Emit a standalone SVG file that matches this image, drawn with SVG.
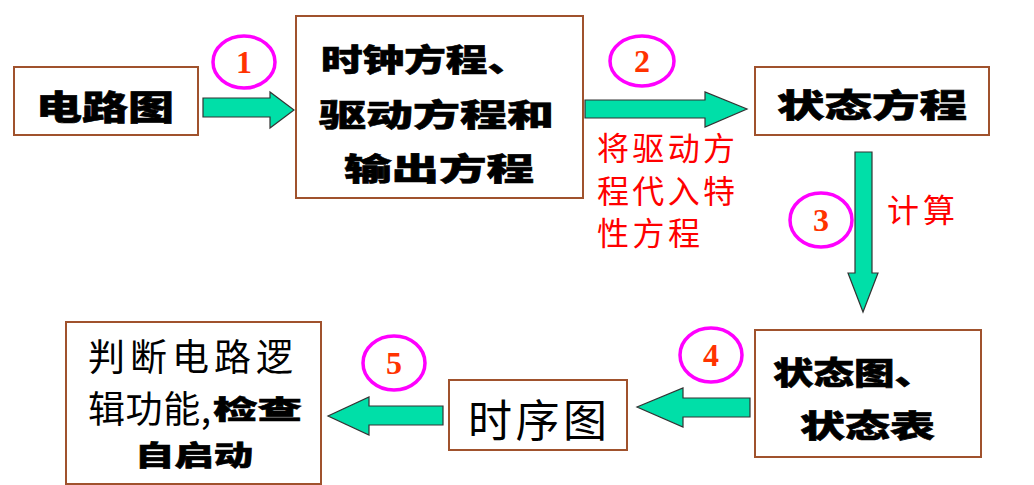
<svg xmlns="http://www.w3.org/2000/svg" width="1034" height="485" viewBox="0 0 1034 485">
<style>
.box{fill:#fff;stroke:#a0522d;stroke-width:2}
.arr{fill:#00dfa8;stroke:#333;stroke-width:1.2}
.circ{fill:none;stroke:#ff00ff;stroke-width:3.5}
.num{font-family:"Liberation Serif",serif;font-weight:bold;font-size:32px;fill:#ff3300;text-anchor:middle}
.bt{font-family:"Noto Sans CJK SC",sans-serif;font-weight:900;fill:#000;stroke:#000;stroke-width:0.6}
.rt{font-family:"Noto Sans CJK SC",sans-serif;font-weight:normal;fill:#ff0000;font-size:32px}
.nt{font-family:"Noto Sans CJK SC",sans-serif;font-weight:normal;fill:#000}
</style>
<rect width="1034" height="485" fill="#fff"/>
<g id="connectors">
<polygon class="arr" points="203,98 270,98 270,92 294,110 270,128 270,117 203,117"/>
<polygon class="arr" points="585,100 705,100 705,92 747,109 705,127 705,118 585,118"/>
<polygon class="arr" points="855,152 872,152 872,273 878,273 863,312 848,273 855,273"/>
<polygon class="arr" points="750,398 683,398 683,388 637,407 683,427 683,417 750,417"/>
<polygon class="arr" points="443,406 369,406 369,397 328,416 369,435 369,425 443,425"/>
<text class="rt" x="597" y="160" textLength="138" lengthAdjust="spacing">将驱动方</text>
<text class="rt" x="597" y="203" textLength="138" lengthAdjust="spacing">程代入特</text>
<text class="rt" x="597" y="245" textLength="103" lengthAdjust="spacing">性方程</text>
<text class="rt" x="887" y="222" textLength="68" lengthAdjust="spacing">计算</text>
</g>
<g id="step1"><ellipse class="circ" cx="244" cy="62" rx="31" ry="26"/><text class="num" x="244" y="73">1</text></g>
<g id="step2"><ellipse class="circ" cx="642" cy="61" rx="32" ry="25"/><text class="num" x="642" y="72">2</text></g>
<g id="step3"><ellipse class="circ" cx="821" cy="220" rx="31" ry="27"/><text class="num" x="821" y="231">3</text></g>
<g id="step4"><ellipse class="circ" cx="711" cy="355" rx="31" ry="27"/><text class="num" x="711" y="366">4</text></g>
<g id="step5"><ellipse class="circ" cx="394" cy="363" rx="31" ry="27"/><text class="num" x="394" y="374">5</text></g>
<g id="circuit">
<rect class="box" x="14" y="67" width="184" height="68"/>
<text class="bt" x="36" y="120" font-size="34" textLength="138" lengthAdjust="spacingAndGlyphs">电路图</text>
</g>
<g id="equations">
<rect class="box" x="296" y="16" width="287" height="182"/>
<text class="bt" x="321" y="71" font-size="31" textLength="208" lengthAdjust="spacingAndGlyphs">时钟方程、</text>
<text class="bt" x="319" y="126" font-size="31" textLength="235" lengthAdjust="spacingAndGlyphs">驱动方程和</text>
<text class="bt" x="344" y="180" font-size="31" textLength="190" lengthAdjust="spacingAndGlyphs">输出方程</text>
</g>
<g id="state-eq">
<rect class="box" x="755" y="67" width="234" height="68"/>
<text class="bt" x="777" y="117" font-size="32" textLength="190" lengthAdjust="spacingAndGlyphs">状态方程</text>
</g>
<g id="state-diagram">
<rect class="box" x="755" y="330" width="226" height="127"/>
<text class="bt" x="773" y="384" font-size="31" textLength="162" lengthAdjust="spacingAndGlyphs">状态图、</text>
<text class="bt" x="800" y="437" font-size="31" textLength="135" lengthAdjust="spacingAndGlyphs">状态表</text>
</g>
<g id="timing">
<rect class="box" x="449" y="380" width="178" height="70"/>
<text class="nt" x="468" y="437" font-size="44" textLength="139" lengthAdjust="spacing">时序图</text>
</g>
<g id="judge">
<rect class="box" x="66" y="322" width="255" height="162"/>
<text class="nt" x="88" y="371" font-size="37" textLength="205" lengthAdjust="spacing">判断电路逻</text>
<text class="nt" x="88" y="423" font-size="37" textLength="123" lengthAdjust="spacing">辑功能,</text>
<text class="bt" x="213" y="419" font-size="26" textLength="89" lengthAdjust="spacingAndGlyphs">检查</text>
<text class="bt" x="135" y="466" font-size="28" textLength="118" lengthAdjust="spacingAndGlyphs">自启动</text>
</g>
</svg>
